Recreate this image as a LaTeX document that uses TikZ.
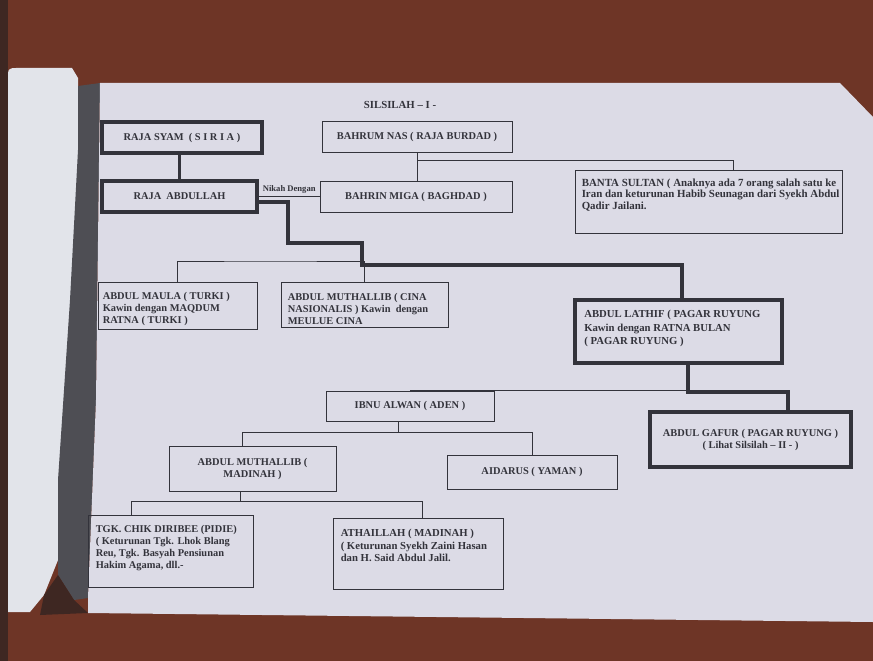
\documentclass[tikz,border=0pt]{standalone}
\usepackage{fontspec}
\setmainfont{Liberation Serif}
\usetikzlibrary{calc}
\definecolor{ink}{HTML}{33333B}
\definecolor{paper}{HTML}{DCDBE6}
\definecolor{tablec}{HTML}{6E3526}
\definecolor{tabledark}{HTML}{3E2722}
\definecolor{flapc}{HTML}{E2E4EA}
\definecolor{spine}{HTML}{4E4E54}
\begin{document}
\begin{tikzpicture}[x=1pt,y=-1pt,
  txt/.style={font=\bfseries\fontsize{10.4}{12}\selectfont, text=ink, inner sep=0pt},
  ltxt/.style={txt, align=left, anchor=west},
  thinbox/.style={txt, draw=ink, line width=0.9pt, align=center},
  thickbox/.style={thinbox, line width=3.8pt},
  thinline/.style={draw=ink, line width=0.9pt},
  thickline/.style={draw=ink, line width=3.6pt, line cap=rect}]
\useasboundingbox (0,0) rectangle (873,661);
% photo context
\fill[tablec] (0,0) rectangle (873,661);
\fill[tabledark] (0,0) rectangle (8,661);
\fill[flapc] (8,74) .. controls (8,69) and (10,68) .. (16,68) -- (72,68) -- (78,78) -- (78,300) -- (66,480) -- (58,560) -- (44,595) -- (30,612) -- (8,612) -- cycle;
\fill[spine] (78,86) -- (100,83) -- (96,400) -- (88,598) -- (74,600) -- (58,575) -- (58,480) -- (70,300) -- (78,150) -- cycle;
\fill[tabledark] (44,595) -- (58,575) -- (74,600) -- (88,613) -- (40,615) -- cycle;
\fill[paper] (100,83) -- (840,83) -- (873,117) -- (873,622) -- (88,613) -- (88,598) -- (96,400) -- cycle;

% title
\node[txt, font=\bfseries\fontsize{10.8}{12}\selectfont] (title) at (400,105) {SILSILAH – I -};

% boxes
\node[thickbox, minimum width=160, minimum height=31] (syam) at (182,137.5) {RAJA SYAM~~( S I R I A )};
\node[thickbox, minimum width=155, minimum height=31] (abdullah) at (179.5,196.5) {RAJA~~ABDULLAH};
\node[thinbox, minimum width=190, minimum height=31] (bahrum) at (417,136.5) {BAHRUM NAS ( RAJA BURDAD )};
\node[thinbox, minimum width=192, minimum height=31] (bahrin) at (416,196.5) {BAHRIN MIGA ( BAGHDAD )};
\node[thinbox, minimum width=267, minimum height=63] (banta) at (708.5,201.5) {};
\node[ltxt, font=\bfseries\fontsize{10.9}{11.8}\selectfont] (bantaT) at ([xshift=7pt,yshift=6.5pt]banta.west) {BANTA SULTAN ( Anaknya ada 7 orang salah satu ke\\Iran dan keturunan Habib Seunagan dari Syekh Abdul\\Qadir Jailani.};
\node[thinbox, minimum width=159, minimum height=47] (maula) at (177.5,305.5) {};
\node[ltxt] (maulaT) at ([xshift=5pt,yshift=-3pt]maula.west) {ABDUL MAULA ( TURKI )\\Kawin dengan MAQDUM\\RATNA ( TURKI )};
\node[thinbox, minimum width=167, minimum height=45] (muth1) at (364.5,304.5) {};
\node[ltxt] (muth1T) at ([xshift=7pt,yshift=-4pt]muth1.west) {ABDUL MUTHALLIB ( CINA\\NASIONALIS ) Kawin~ dengan\\MEULUE CINA};
\node[thickbox, minimum width=207, minimum height=63] (lathif) at (678.5,331.5) {};
\node[ltxt, font=\bfseries\fontsize{10.7}{13.3}\selectfont] (lathifT) at ([xshift=11pt,yshift=3pt]lathif.west) {ABDUL LATHIF ( PAGAR RUYUNG\\Kawin dengan RATNA BULAN\\( PAGAR RUYUNG )};
\node[thinbox, minimum width=168, minimum height=30] (ibnu) at (410,406) {IBNU ALWAN ( ADEN )};
\node[thinbox, minimum width=167, minimum height=45] (muth2) at (252.5,468.5) {ABDUL MUTHALLIB (\\MADINAH )};
\node[thinbox, minimum width=170, minimum height=34] (aidarus) at (532,472) {AIDARUS ( YAMAN )};
\node[thickbox, minimum width=201, minimum height=55] (gafur) at (750.5,439.5) {ABDUL GAFUR ( PAGAR RUYUNG )\\( Lihat Silsilah – II - )};
\node[thinbox, minimum width=165, minimum height=72] (tgk) at (170.5,551) {};
\node[ltxt] (tgkT) at ([xshift=8pt,yshift=2.5pt]tgk.west) {TGK. CHIK DIRIBEE (PIDIE)\\( Keturunan Tgk. Lhok Blang\\Reu, Tgk. Basyah Pensiunan\\Hakim Agama, dll.-};
\node[thinbox, minimum width=170, minimum height=71] (athaillah) at (418,553.5) {};
\node[ltxt, font=\bfseries\fontsize{10.7}{12.5}\selectfont] (athaillahT) at ([xshift=8pt,yshift=8pt]athaillah.west) {ATHAILLAH ( MADINAH )\\( Keturunan Syekh Zaini Hasan\\dan H. Said Abdul Jalil.};

% junction coordinates
\coordinate (k1) at (288,243);
\coordinate (k2) at (362,265);
\coordinate (jA) at (270,261);
\coordinate (jB) at (733,160);
\coordinate (jC) at (688,392);
\coordinate (jD) at (788,392);
\coordinate (jE) at (398,432);
\coordinate (jF) at (242,432);
\coordinate (jG) at (532,432);
\coordinate (jH) at (240,501);
\coordinate (jI) at (131,501);
\coordinate (jJ) at (422,501);

% connectors
\draw[thickline] (abdullah.north) -- (abdullah.north |- syam.south);
\draw[thinline] (abdullah.east) -- (bahrin.west)
  node[midway, above=2.5pt, txt, font=\bfseries\fontsize{8.6}{10}\selectfont] (nikah) {Nikah Dengan};
\draw[thinline] (bahrum.south) -- (bahrum.south |- bahrin.north);
\draw[thinline] (bahrum.south |- jB) -- (jB) -- (jB |- banta.north);
\draw[thinline] (maula.north) |- (jA) -| (muth1.north);
\draw[thickline] ([yshift=-5.5pt]abdullah.east) -| (k1) -| (k2) -| ([xshift=3.5pt]lathif.north);
\draw[thinline] (ibnu.north) -- (jC |- ibnu.north) -- (jC);
\draw[thickline] (jC |- lathif.south) -- (jC) -- (jD) -- (jD |- gafur.north);
\draw[thinline] (jE |- ibnu.south) -- (jE);
\draw[thinline] (jF |- muth2.north) -- (jF) -- (jG) -- (jG |- aidarus.north);
\draw[thinline] (jH |- muth2.south) -- (jH);
\draw[thinline] (jI |- tgk.north) -- (jI) -- (jJ) -- (jJ |- athaillah.north);
\end{tikzpicture}
\end{document}
